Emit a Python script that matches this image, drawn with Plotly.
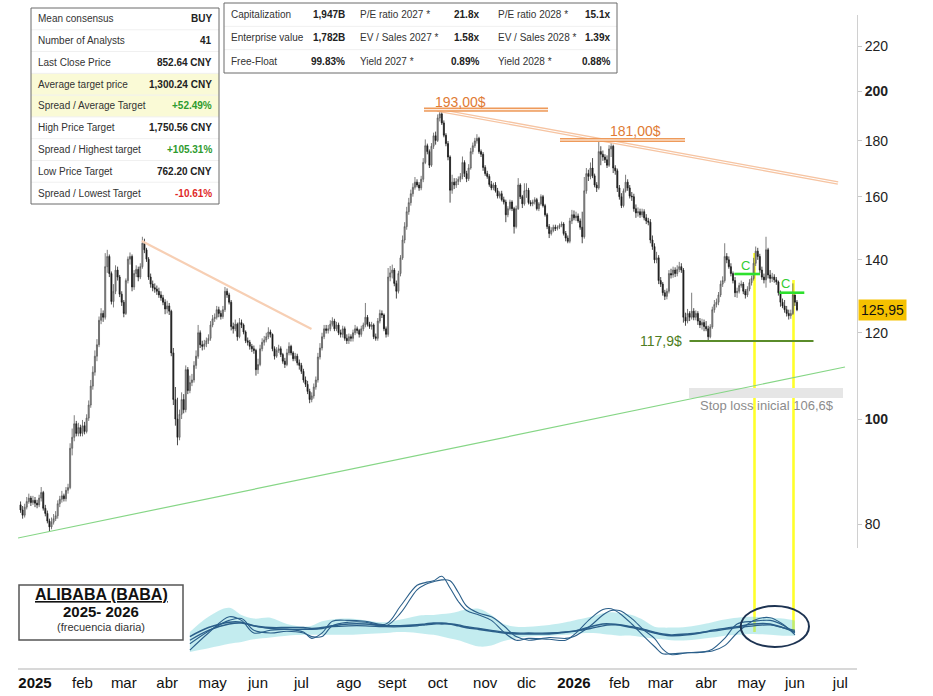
import numpy as np
import pandas as pd
import plotly.graph_objects as go

# ---------------- DATA ----------------
start_date = "2024-12-23"
first_open = 83.4
closes = [
    82.5, 81.6, 83.0, 84.0, 84.6, 83.8, 84.2,  # dic 2024
    83.7, 83.4, 84.6, 85.6, 82.8, 81.9, 80.6, 79.6, 80.4, 81.0, 81.5, 83.6, 84.4, 85.0, 84.5, 86.0, 86.5, 94.0, 96.2, 99.0, 97.0, 98.2, 97.0,  # ene 25
    98.6, 97.4, 100.2, 103.0, 107.2, 110.4, 114.2, 117.0, 123.2, 125.0, 124.0, 138.0, 141.0, 136.0, 128.2, 131.0, 137.0, 135.0, 130.2, 128.0,  # feb
    125.0, 134.0, 140.2, 141.0, 132.2, 136.0, 137.2, 135.0, 138.0, 145.0, 143.0, 140.2, 135.0, 133.0, 132.0, 131.6, 131.0, 130.0, 129.2, 128.0, 126.2,  # mar
    127.0, 125.6, 115.0, 104.2, 100.0, 96.2, 101.0, 104.2, 102.0, 111.0, 106.2, 108.0, 108.6, 112.0, 114.2, 120.0, 117.0, 116.6, 117.2, 118.0, 118.6, 122.0,  # abr
    123.6, 124.0, 126.0, 125.0, 124.2, 126.0, 131.0, 130.0, 128.0, 121.6, 121.0, 122.2, 119.0, 122.6, 122.0, 120.2, 118.0, 117.6, 116.6, 116.0, 115.6, 111.0,  # may
    112.2, 116.0, 117.6, 118.2, 119.0, 120.2, 119.6, 116.0, 114.2, 115.6, 116.0, 114.6, 113.0, 112.2, 115.0, 116.6, 115.0, 113.6, 114.2, 112.6, 112.0,  # jun
    110.6, 108.6, 107.6, 106.0, 104.2, 105.0, 107.0, 108.6, 114.0, 116.2, 119.0, 121.0, 120.6, 121.0, 122.2, 123.0, 121.0, 122.0, 120.0, 119.6, 121.0, 118.6, 118.0,  # jul
    119.0, 118.6, 120.0, 121.0, 120.6, 119.6, 121.0, 122.0, 124.0, 122.2, 121.6, 122.0, 119.0, 118.6, 123.0, 125.0, 124.6, 121.0, 119.6, 135.0, 136.2,  # ago
    137.0, 133.2, 131.0, 136.0, 140.6, 146.0, 150.2, 155.0, 158.0, 161.0, 163.2, 165.0, 164.0, 163.0, 166.0, 172.0, 178.2, 176.0, 171.0, 178.0, 182.0, 180.2,  # sept
    189.0, 190.6, 187.0, 182.2, 179.0, 174.0, 162.2, 165.0, 164.0, 165.2, 166.0, 167.0, 172.0, 168.0, 166.2, 170.0, 176.0, 178.2, 180.0, 181.0, 176.0, 175.0, 170.2,  # oct
    168.0, 167.0, 164.2, 163.0, 164.0, 162.0, 160.2, 161.0, 159.0, 158.2, 154.0, 156.0, 158.2, 156.0, 150.2, 156.0, 164.0, 160.0, 157.6, 162.0,  # nov
    162.2, 158.0, 157.6, 158.2, 159.0, 156.0, 157.6, 160.0, 157.0, 154.0, 150.2, 148.0, 149.0, 150.0, 149.6, 150.0, 150.6, 151.0, 148.0, 146.6, 145.6, 152.0, 154.0,  # dic
    153.0, 153.6, 152.0, 150.0, 147.0, 162.0, 168.0, 167.0, 170.0, 167.2, 164.0, 163.0, 176.0, 175.0, 174.0, 173.0, 171.0, 177.0, 178.0, 170.0, 169.0, 163.0,  # ene 26
    160.0, 157.0, 162.0, 165.0, 163.0, 160.2, 160.0, 156.0, 154.6, 155.0, 154.0, 155.0, 153.0, 152.0, 151.6, 146.0, 144.0, 140.0, 140.6, 134.0,  # feb
    133.0, 130.6, 129.6, 131.0, 136.0, 135.6, 137.0, 136.0, 137.2, 138.0, 137.0, 124.0, 123.0, 125.0, 124.0, 125.6, 124.0, 125.0, 123.0, 122.0, 122.6, 121.6,  # mar
    121.0, 119.0, 121.5, 126.0, 127.4, 128.0, 130.0, 133.0, 134.0, 141.0, 140.0, 138.0, 136.0, 134.0, 130.6, 131.0, 132.6, 133.0, 131.0, 130.0, 131.6, 133.4,  # abr
    134.6, 139.0, 142.6, 141.0, 137.0, 135.0, 134.2, 143.0, 135.6, 134.6, 135.0, 134.2, 133.6, 130.6, 128.0, 127.0, 126.0, 125.0, 124.4, 125.0, 130.0,  # may
    128.0, 125.95,  # jun
]
highs = [
    84.0, 83.2, 83.6, 84.8, 85.4, 85.0, 85.0,
    84.8, 84.3, 85.2, 86.6, 85.9, 83.4, 82.4, 81.0, 81.2, 81.8, 82.3, 84.2, 85.0, 85.9, 85.4, 86.6, 87.2, 95.0, 98.0, 100.8, 99.6, 99.2, 98.8,
    99.8, 99.4, 101.0, 104.0, 108.6, 111.8, 115.6, 118.4, 124.2, 126.4, 125.8, 142.0, 143.0, 141.6, 136.6, 133.0, 138.4, 138.0, 135.6, 131.0,
    128.6, 134.6, 141.0, 142.2, 141.6, 137.0, 138.4, 138.0, 139.0, 147.0, 146.4, 143.6, 140.8, 136.0, 134.0, 133.2, 132.6, 132.0, 131.0, 130.0, 128.8,
    128.4, 127.8, 126.0, 116.2, 107.0, 104.6, 102.0, 105.8, 105.4, 112.0, 111.6, 109.6, 110.0, 113.0, 115.6, 122.0, 120.6, 118.0, 118.2, 118.8, 119.6, 123.0,
    124.6, 125.0, 127.0, 126.8, 125.8, 127.0, 132.2, 131.8, 130.6, 128.6, 122.6, 123.4, 122.6, 123.8, 123.4, 122.4, 120.6, 118.8, 118.2, 117.2, 116.8, 116.0,
    113.6, 117.0, 118.6, 119.2, 120.0, 121.4, 120.8, 119.8, 116.6, 116.4, 117.0, 116.6, 115.0, 113.8, 116.0, 117.6, 117.0, 115.4, 115.0, 114.8, 113.4,
    112.6, 111.2, 109.4, 108.4, 106.6, 105.8, 107.8, 109.4, 115.0, 117.4, 120.0, 122.0, 122.0, 122.0, 123.2, 124.0, 123.6, 122.8, 122.6, 120.8, 121.8, 121.6, 119.6,
    119.8, 119.6, 120.8, 122.0, 121.6, 121.0, 121.8, 122.6, 127.8, 124.6, 122.8, 122.8, 122.4, 119.8, 123.8, 126.0, 125.8, 125.0, 121.6, 137.6, 138.2,
    138.6, 137.6, 134.0, 136.8, 141.4, 147.4, 151.6, 156.6, 159.6, 162.4, 164.6, 166.8, 166.0, 165.0, 167.2, 173.6, 180.6, 179.0, 176.8, 179.2, 183.2, 183.6,
    190.4, 193.0, 191.6, 188.0, 183.0, 180.0, 174.6, 167.6, 166.4, 166.4, 167.0, 168.2, 174.2, 172.8, 169.0, 171.4, 177.4, 179.4, 181.2, 182.6, 181.6, 176.8, 175.8,
    171.0, 169.0, 167.8, 165.4, 164.8, 165.0, 163.0, 161.8, 162.0, 160.0, 159.0, 156.8, 159.0, 158.8, 156.6, 157.0, 166.4, 164.6, 160.6, 164.6,
    164.6, 163.0, 158.8, 159.0, 159.8, 159.6, 158.2, 160.8, 160.6, 157.6, 154.6, 151.0, 150.0, 150.8, 150.8, 150.6, 151.2, 151.8, 151.6, 148.8, 147.4, 153.0, 155.6,
    155.4, 155.0, 154.4, 152.8, 155.0, 166.8, 170.0, 169.4, 172.0, 173.6, 168.0, 165.0, 180.5, 178.0, 176.4, 175.0, 174.6, 178.4, 181.0, 178.6, 171.0, 169.8,
    164.0, 161.2, 162.8, 167.6, 166.0, 164.0, 161.6, 161.0, 157.4, 156.4, 156.0, 156.0, 155.8, 154.2, 153.0, 152.6, 147.4, 145.0, 142.4, 141.4,
    135.0, 133.6, 131.4, 131.8, 137.0, 137.4, 138.0, 137.8, 138.4, 139.4, 139.0, 137.6, 125.2, 126.2, 125.6, 130.6, 126.4, 125.8, 125.6, 123.8, 123.6, 123.4,
    123.0, 121.8, 122.2, 126.8, 128.6, 129.0, 130.8, 134.0, 135.2, 145.0, 142.0, 141.0, 139.0, 136.6, 135.0, 132.0, 133.4, 134.0, 133.6, 131.6, 132.4, 134.4,
    135.4, 140.6, 144.0, 143.6, 141.8, 138.0, 136.0, 147.0, 143.6, 137.0, 136.2, 135.8, 135.0, 134.0, 131.2, 129.0, 128.6, 127.0, 126.0, 126.0, 133.2,
    129.0, 128.6,
]
lows = [
    82.0, 81.0, 81.2, 82.6, 83.6, 83.2, 83.4,
    83.0, 82.8, 83.0, 84.0, 82.4, 81.4, 80.2, 78.8, 79.2, 80.0, 80.6, 81.0, 83.0, 83.8, 84.0, 84.0, 85.4, 86.2, 92.6, 95.4, 96.4, 96.4, 96.4,
    96.4, 96.8, 97.0, 99.6, 102.4, 106.4, 109.6, 113.0, 116.4, 122.2, 122.8, 123.4, 136.2, 135.0, 127.4, 126.6, 130.2, 134.0, 129.4, 127.0,
    124.0, 124.6, 133.2, 138.6, 131.0, 131.4, 135.0, 133.8, 134.4, 137.4, 142.0, 139.4, 134.2, 132.0, 131.0, 130.6, 130.0, 129.2, 128.4, 127.2, 124.8,
    125.0, 124.6, 114.2, 103.0, 98.6, 94.6, 95.6, 100.0, 101.2, 101.4, 105.4, 105.6, 107.2, 108.0, 111.2, 113.6, 116.2, 115.6, 115.8, 116.4, 117.2, 118.0,
    121.4, 122.8, 123.4, 124.0, 123.4, 123.6, 125.4, 129.2, 127.4, 120.6, 119.8, 120.4, 118.0, 118.6, 121.2, 119.6, 117.4, 116.8, 115.8, 115.2, 114.8, 109.6,
    110.0, 111.8, 115.4, 116.8, 117.6, 118.4, 118.8, 115.4, 113.4, 113.8, 115.0, 114.0, 112.4, 111.4, 111.8, 114.4, 114.4, 113.0, 113.0, 112.0, 111.0,
    110.0, 108.0, 107.0, 105.4, 103.4, 103.6, 104.4, 106.4, 108.0, 113.4, 115.6, 118.4, 119.8, 119.8, 120.4, 121.6, 120.4, 120.4, 119.4, 118.8, 118.8, 118.0, 117.2,
    117.2, 117.8, 117.8, 119.4, 119.8, 118.8, 119.0, 120.4, 121.4, 121.6, 121.0, 120.8, 118.4, 118.0, 118.0, 122.4, 123.8, 120.4, 118.8, 119.0, 133.8,
    134.6, 132.4, 129.0, 130.4, 135.2, 140.0, 145.0, 149.2, 154.0, 157.0, 160.0, 162.4, 163.2, 162.0, 162.2, 165.0, 171.4, 175.0, 170.0, 170.4, 177.0, 178.6,
    179.6, 187.6, 186.2, 181.4, 178.0, 172.8, 158.0, 161.0, 162.6, 163.0, 164.0, 165.0, 166.0, 166.8, 165.0, 165.4, 169.4, 175.0, 177.4, 179.0, 175.2, 174.0, 169.0,
    167.2, 166.2, 163.4, 162.2, 162.2, 161.4, 159.4, 159.4, 158.4, 157.4, 151.6, 153.2, 155.4, 155.2, 148.0, 149.6, 155.6, 159.2, 156.2, 157.0,
    159.6, 157.4, 156.8, 156.8, 157.4, 155.4, 155.2, 157.0, 156.4, 153.4, 149.4, 146.6, 147.4, 148.4, 148.8, 149.0, 149.4, 150.0, 147.4, 145.6, 145.0, 145.0, 151.0,
    152.2, 152.0, 151.4, 149.2, 145.0, 146.4, 161.0, 165.4, 166.0, 166.4, 163.2, 161.6, 162.4, 171.0, 172.6, 171.8, 170.0, 170.4, 174.0, 168.2, 167.6, 161.6,
    159.0, 156.2, 156.4, 161.4, 162.0, 159.4, 158.6, 155.0, 153.0, 153.4, 153.0, 153.2, 152.2, 151.0, 150.6, 145.0, 143.0, 139.0, 139.0, 133.0,
    132.2, 129.8, 128.6, 128.8, 130.4, 134.6, 134.8, 135.0, 135.2, 136.4, 136.2, 122.6, 121.8, 122.4, 123.0, 123.4, 123.2, 123.2, 122.0, 121.2, 120.8, 120.4,
    120.4, 117.9, 118.6, 121.0, 125.2, 126.6, 127.2, 129.4, 132.2, 133.4, 139.0, 137.4, 135.2, 133.2, 129.4, 129.2, 130.4, 132.0, 130.2, 129.0, 129.4, 131.0,
    132.6, 134.0, 138.2, 140.0, 136.2, 134.2, 133.2, 132.0, 134.6, 133.4, 133.6, 133.4, 132.8, 129.8, 126.8, 126.4, 125.2, 124.2, 123.4, 123.6, 124.6,
    127.0, 125.6,
]

month_labels = ["<b>2025</b>", "feb", "mar", "abr", "may", "jun", "jul", "ago", "sept", "oct", "nov", "dic",
                "<b>2026</b>", "feb", "mar", "abr", "may", "jun", "jul"]
y_tick_vals = [80, 100, 120, 140, 160, 180, 200, 220]
y_tick_text = ["80", "<b>100</b>", "120", "140", "160", "180", "<b>200</b>", "220"]
last_price = 125.95

# oscillator panel (session index since 1 Jan 2025, values 0-100)
osc_x = [75, 84, 94, 100, 106, 114, 122, 130, 134, 139, 144, 152, 160, 170, 177, 185, 189, 193, 197, 201,
         205, 209, 215, 221, 227, 233, 239, 249, 257, 261, 269, 275, 279, 283, 289, 295, 300, 304, 308, 316,
         324, 328, 334, 340, 348, 356, 362, 368]
osc_fast1 = [11, 30, 48, 44, 30, 33, 34, 31, 24, 30, 43, 44, 43, 40, 60, 83, 86, 88, 93, 80,
             65, 55, 50, 44, 31, 22, 24, 23, 22, 28, 46, 56, 57, 52, 40, 26, 15, 7, 7, 8,
             9, 12, 24, 40, 43, 44, 39, 30]
osc_fast2 = [18, 32, 44, 46, 33, 30, 32, 30, 26, 26, 38, 42, 42, 38, 52, 78, 84, 87, 89, 88,
             75, 60, 52, 48, 38, 26, 22, 25, 24, 26, 38, 50, 55, 55, 46, 33, 24, 12, 6, 8,
             9, 10, 16, 30, 44, 47, 40, 28]
osc_slow1 = [26, 36, 42, 42, 38, 36, 36, 36, 35, 36, 38, 40, 40, 38, 38, 39, 40, 41, 41, 40,
             38, 36, 34, 32, 30, 29, 29, 29, 31, 32, 37, 40, 40, 39, 36, 33, 30, 28, 27, 28,
             31, 33, 35, 37, 40, 40, 36, 31]
osc_slow2 = [22, 33, 40, 41, 38, 35, 34, 34, 34, 35, 37, 38, 38, 37, 37, 38, 39, 40, 40, 40,
             39, 37, 35, 33, 31, 30, 30, 30, 31, 32, 35, 38, 39, 39, 37, 34, 31, 29, 28, 29,
             31, 32, 34, 36, 38, 39, 36, 33]
band_up = [31, 48, 58, 50, 46, 47, 40, 37, 38, 43, 45, 46, 44, 42, 45, 49, 50, 50, 51, 52,
           54, 56, 57, 50, 40, 37, 37, 39, 42, 44, 48, 52, 53, 52, 50, 44, 37, 36, 36, 37,
           40, 42, 45, 47, 48, 47, 46, 44]
band_lo = [9, 13, 18, 20, 23, 25, 27, 28, 28, 28, 28, 28, 29, 30, 31, 30, 29, 28, 26, 24,
           22, 19, 15, 16, 21, 24, 26, 27, 28, 29, 30, 29, 28, 27, 27, 25, 24, 23, 22, 22,
           24, 25, 27, 28, 29, 28, 27, 27]

left_table = [("Mean consensus", "BUY"), ("Number of Analysts", "41"), ("Last Close Price", "852.64 CNY"),
              ("Average target price", "1,300.24 CNY"), ("Spread / Average Target", "+52.49%"),
              ("High Price Target", "1,750.56 CNY"), ("Spread / Highest target", "+105.31%"),
              ("Low Price Target", "762.20 CNY"), ("Spread / Lowest Target", "-10.61%")]
top_table = [[("Capitalization", "1,947B"), ("P/E ratio 2027 *", "21.8x"), ("P/E ratio 2028 *", "15.1x")],
             [("Enterprise value", "1,782B"), ("EV / Sales 2027 *", "1.58x"), ("EV / Sales 2028 *", "1.39x")],
             [("Free-Float", "99.83%"), ("Yield 2027 *", "0.89%"), ("Yield 2028 *", "0.88%")]]

# ---------------- BUILD ----------------
cal = pd.bdate_range(start_date, "2026-07-31")
origin = int(np.searchsorted(cal, pd.Timestamp("2025-01-01")))
k_all = np.arange(len(cal)) - origin
n = len(closes)
xk = k_all[:n]
opens = [first_open] + closes[:-1]

month_starts = pd.date_range("2025-01-01", "2026-07-01", freq="MS")
tick_k = [int(k_all[np.searchsorted(cal, m)]) for m in month_starts]

W, H = 933, 696
ML, MR, MT, MB = 18, 76, 0, 28
PW, PH = W - ML - MR, H - MT - MB


def PX(px):
    return (px - ML) / PW


def PY(py):
    return (PH - py) / PH


def KX(px):  # pixel -> session index
    return (px - 35) / 2.065


def LP(py):  # pixel -> price on log axis
    return 100 * np.exp((419 - py) / 473)


L10 = np.log10
NARROW = "Liberation Sans Narrow, Arial Narrow, Liberation Sans, Arial"
ARIAL = "Liberation Sans, Arial"

fig = go.Figure()

# trend lines (behind candles)
fig.add_trace(go.Scatter(x=[KX(18), KX(845)], y=[LP(538), LP(367)], mode="lines",
                         line=dict(color="#86d686", width=1.2), hoverinfo="skip", showlegend=False))
fig.add_trace(go.Scatter(x=[KX(141.7), KX(311.5)], y=[LP(241), LP(329)], mode="lines",
                         line=dict(color="#f7cfb4", width=2.2), hoverinfo="skip", showlegend=False))
for col, w in (("#f6c4a2", 3.6), ("#ffffff", 1.0)):
    fig.add_trace(go.Scatter(x=[KX(437), KX(838)], y=[LP(110), LP(183)], mode="lines",
                             line=dict(color=col, width=w), hoverinfo="skip", showlegend=False))

fig.add_trace(go.Candlestick(
    x=xk, open=opens, high=highs, low=lows, close=closes,
    increasing=dict(line=dict(color="#5c5c5c", width=0.8), fillcolor="#9a9a9a"),
    decreasing=dict(line=dict(color="#1a1a1a", width=0.8), fillcolor="#1a1a1a"),
    whiskerwidth=0, hoverinfo="skip", showlegend=False, xaxis="x", yaxis="y"))

# horizontal resistance levels (double orange)
for (x0, x1, lev) in ((KX(424), KX(548), LP(109.7)), (KX(560), KX(685), LP(140))):
    for col, w in (("#ee9a5a", 4.2), ("#ffffff", 1.0)):
        fig.add_trace(go.Scatter(x=[x0, x1], y=[lev, lev], mode="lines",
                                 line=dict(color=col, width=w), hoverinfo="skip", showlegend=False))

# support 117.9
fig.add_trace(go.Scatter(x=[KX(689.5), KX(813.5)], y=[117.9, 117.9], mode="lines",
                         line=dict(color="#5a8c2a", width=2), hoverinfo="skip", showlegend=False))
# C levels
for (x0, x1, py) in ((734.3, 760, 274), (779.3, 804.3, 292.7)):
    fig.add_trace(go.Scatter(x=[KX(x0), KX(x1)], y=[LP(py), LP(py)], mode="lines",
                             line=dict(color="#2ee02e", width=2.6), hoverinfo="skip", showlegend=False))

# oscillator
fig.add_trace(go.Scatter(x=osc_x, y=band_lo, mode="lines", line=dict(width=0, shape="spline"),
                         xaxis="x", yaxis="y2", hoverinfo="skip", showlegend=False))
fig.add_trace(go.Scatter(x=osc_x, y=band_up, mode="lines", line=dict(width=0, shape="spline"),
                         fill="tonexty", fillcolor="rgba(96,206,212,0.38)",
                         xaxis="x", yaxis="y2", hoverinfo="skip", showlegend=False))
for ser, w in ((osc_slow1, 1.6), (osc_slow2, 1.3), (osc_fast1, 1.1), (osc_fast2, 1.1)):
    fig.add_trace(go.Scatter(x=osc_x, y=ser, mode="lines", line=dict(color="#2b5f8a", width=w, shape="spline"),
                             xaxis="x", yaxis="y2", hoverinfo="skip", showlegend=False))

shapes = []
annotations = []

# yellow verticals
for xp, top in ((754.5, 253), (793.5, 280)):
    shapes.append(dict(type="line", xref="x", yref="paper", x0=KX(xp), x1=KX(xp), y0=PY(632), y1=PY(top),
                       line=dict(color="#ffff2a", width=2.6), layer="below"))
# stop-loss band
shapes.append(dict(type="rect", xref="x", yref="y", x0=KX(689), x1=KX(843), y0=LP(398), y1=LP(388),
                   fillcolor="#e6e6e6", line=dict(width=0), layer="below"))
# ellipse
shapes.append(dict(type="circle", xref="x", yref="paper", x0=KX(740.7), x1=KX(809), y0=PY(647), y1=PY(606),
                   line=dict(color="#1d3352", width=2)))

# text on chart
annotations += [
    dict(x=KX(460.5), y=L10(LP(101.7)), xref="x", yref="y", text="193,00$", showarrow=False,
         font=dict(family=ARIAL, size=14, color="#e07b34")),
    dict(x=KX(635.5), y=L10(LP(130.7)), xref="x", yref="y", text="181,00$", showarrow=False,
         font=dict(family=ARIAL, size=14, color="#e07b34")),
    dict(x=KX(684), y=L10(117.9), xref="x", yref="y", text="117,9$", showarrow=False, xanchor="right",
         font=dict(family=ARIAL, size=14, color="#4e7d22")),
    dict(x=KX(767), y=L10(LP(405)), xref="x", yref="y", text="Stop loss inicial 106,6$", showarrow=False,
         font=dict(family=ARIAL, size=13, color="#8c8c8c")),
    dict(x=KX(745.7), y=L10(LP(265)), xref="x", yref="y", text="C", showarrow=False,
         font=dict(family=ARIAL, size=13, color="#33cc33")),
    dict(x=KX(785.7), y=L10(LP(283)), xref="x", yref="y", text="C", showarrow=False,
         font=dict(family=ARIAL, size=13, color="#33cc33")),
    dict(x=PX(858), y=L10(last_price), xref="paper", yref="y", text="125,95", showarrow=False, xanchor="left",
         yanchor="middle", bgcolor="#f5c100", borderpad=2, font=dict(family=ARIAL, size=14, color="#111")),
]

# left table
tx0, ty0, tx1, ty1 = 31, 8, 219, 204
rh = (ty1 - ty0) / len(left_table)
shapes.append(dict(type="rect", xref="paper", yref="paper", x0=PX(tx0), x1=PX(tx1), y0=PY(ty0 + 3 * rh),
                   y1=PY(ty0 + 5 * rh), fillcolor="#fafad6", line=dict(width=0)))
for i in range(1, len(left_table)):
    shapes.append(dict(type="line", xref="paper", yref="paper", x0=PX(tx0), x1=PX(tx1),
                       y0=PY(ty0 + i * rh), y1=PY(ty0 + i * rh), line=dict(color="#f0f0f0", width=1)))
shapes.append(dict(type="rect", xref="paper", yref="paper", x0=PX(tx0), x1=PX(tx1), y0=PY(ty0), y1=PY(ty1),
                   line=dict(color="#6a6a6a", width=1)))
for i, (lab, val) in enumerate(left_table):
    yc = PY(ty0 + (i + 0.5) * rh)
    vcol = "#222"
    if val.startswith("+"):
        vcol = "#2e9b2e"
    elif val.startswith("-"):
        vcol = "#e02828"
    annotations.append(dict(x=PX(36), y=yc, xref="paper", yref="paper", text=lab, showarrow=False,
                            xanchor="left", yanchor="middle", font=dict(family=NARROW, size=10, color="#333")))
    annotations.append(dict(x=PX(214), y=yc, xref="paper", yref="paper", text="<b>" + val + "</b>",
                            showarrow=False, xanchor="right", yanchor="middle",
                            font=dict(family=NARROW, size=10, color=vcol)))

# top table
bx0, by0, bx1, by1 = 224, 3, 617, 73
brh = (by1 - by0) / 3
for i in range(1, 3):
    shapes.append(dict(type="line", xref="paper", yref="paper", x0=PX(bx0), x1=PX(bx1),
                       y0=PY(by0 + i * brh), y1=PY(by0 + i * brh), line=dict(color="#f0f0f0", width=1)))
shapes.append(dict(type="rect", xref="paper", yref="paper", x0=PX(bx0), x1=PX(bx1), y0=PY(by0), y1=PY(by1),
                   line=dict(color="#6a6a6a", width=1)))
col_pos = [(229, 347), (358, 481), (496, 612)]
for r, row in enumerate(top_table):
    yc = PY(by0 + (r + 0.5) * brh)
    for (lab, val), (lx, vx) in zip(row, col_pos):
        annotations.append(dict(x=PX(lx), y=yc, xref="paper", yref="paper", text=lab, showarrow=False,
                                xanchor="left", yanchor="middle", font=dict(family=NARROW, size=10, color="#333")))
        annotations.append(dict(x=PX(vx), y=yc, xref="paper", yref="paper", text="<b>" + val + "</b>",
                                showarrow=False, xanchor="right", yanchor="middle",
                                font=dict(family=NARROW, size=10, color="#222")))

# title box bottom-left
shapes.append(dict(type="rect", xref="paper", yref="paper", x0=PX(19), x1=PX(183), y0=PY(640), y1=PY(585),
                   line=dict(color="#555", width=1.5), fillcolor="white"))
annotations += [
    dict(x=PX(101), y=PY(594), xref="paper", yref="paper", text="<b><u>ALIBABA (BABA)</u></b>",
         showarrow=False, xanchor="center", yanchor="middle", font=dict(family=ARIAL, size=16, color="#111")),
    dict(x=PX(101), y=PY(611), xref="paper", yref="paper", text="<b>2025- 2026</b>",
         showarrow=False, xanchor="center", yanchor="middle", font=dict(family=NARROW, size=15, color="#111")),
    dict(x=PX(101), y=PY(627), xref="paper", yref="paper", text="(frecuencia diaria)",
         showarrow=False, xanchor="center", yanchor="middle", font=dict(family=NARROW, size=11, color="#333")),
]

fig.update_layout(
    width=W, height=H, margin=dict(l=ML, r=MR, t=MT, b=MB),
    paper_bgcolor="white", plot_bgcolor="white", showlegend=False,
    xaxis=dict(range=[KX(18), KX(857)], anchor="y2", showgrid=False, zeroline=False,
               showline=True, linecolor="#d8d8d8", linewidth=2, ticks="",
               tickvals=tick_k, ticktext=month_labels, tickangle=0,
               tickfont=dict(family=NARROW, size=15, color="#111"), rangeslider=dict(visible=False)),
    yaxis=dict(type="log", domain=[PY(548), PY(15)], range=[L10(LP(548)), L10(LP(15))], side="right",
               anchor="x", showgrid=False, zeroline=False, showline=True, linecolor="#d0d0d0", linewidth=1,
               ticks="outside", ticklen=4, tickcolor="#c8c8c8", tickvals=y_tick_vals, ticktext=y_tick_text,
               tickfont=dict(family=ARIAL, size=14, color="#222")),
    yaxis2=dict(domain=[0, PY(570)], range=[-8.9, 100], visible=False, anchor="x"),
    shapes=shapes, annotations=annotations,
)

fig.write_html("out.html")
